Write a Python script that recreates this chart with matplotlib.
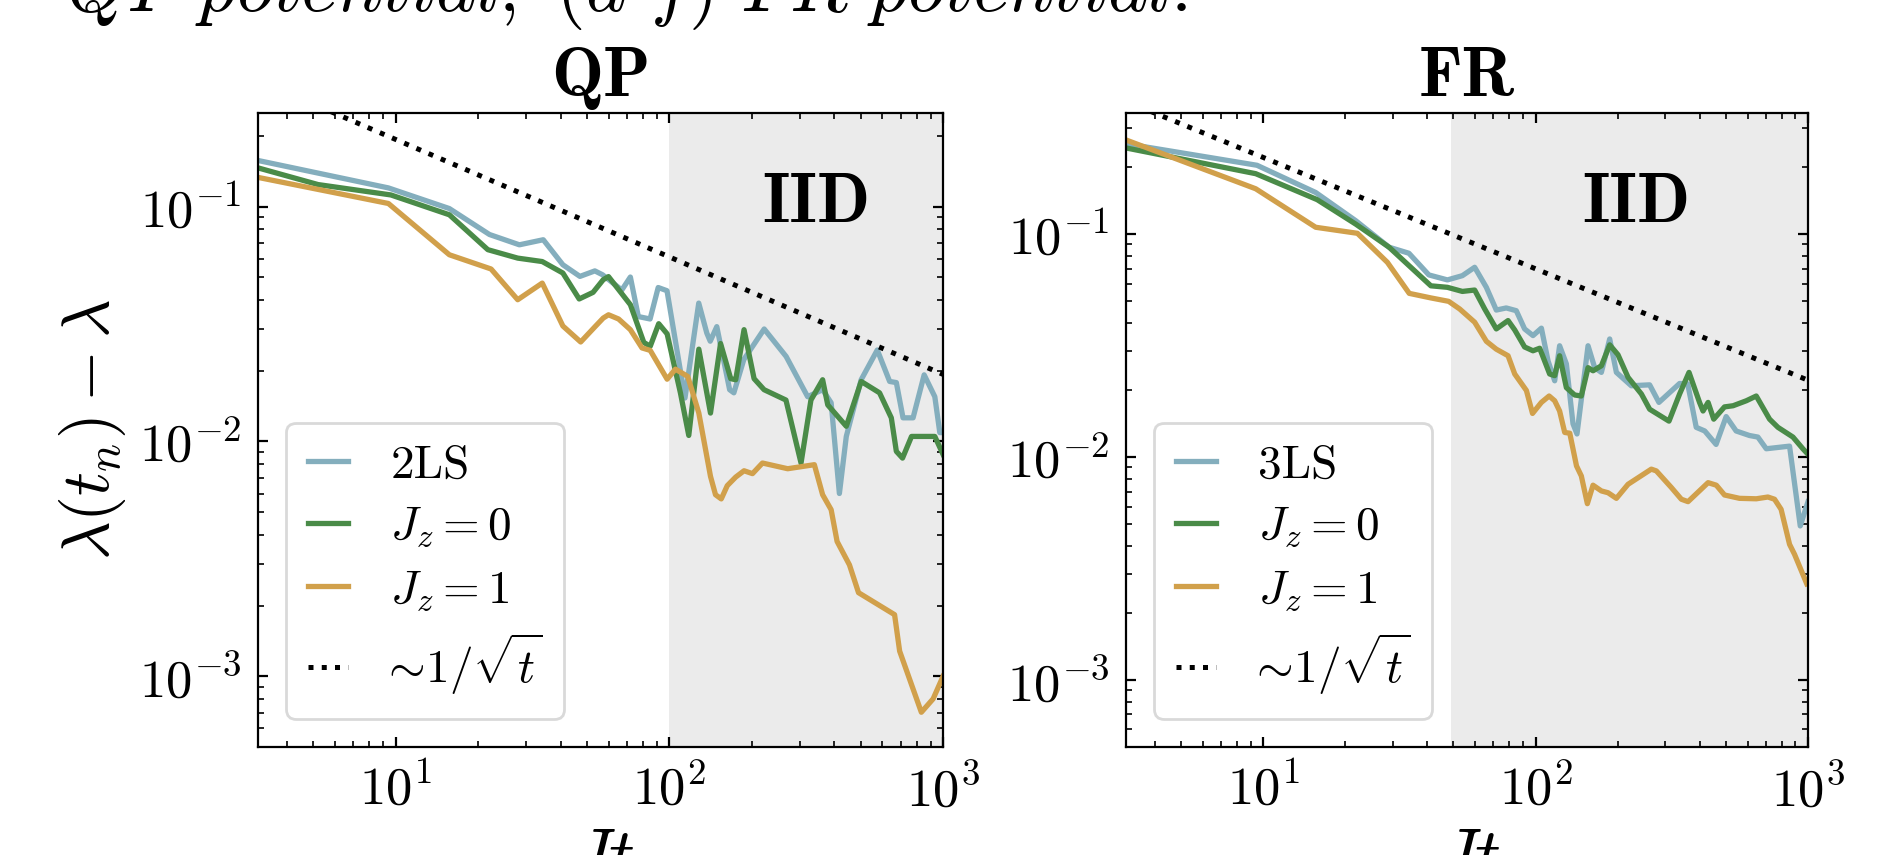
import numpy as np
import matplotlib
matplotlib.use("Agg")
import matplotlib.pyplot as plt

# fonts: computer modern look
plt.rcParams['mathtext.fontset'] = 'cm'
plt.rcParams['font.family'] = 'serif'
plt.rcParams['font.serif'] = ['cmr10']
plt.rcParams['axes.formatter.use_mathtext'] = True

# ---- data: QP panel ----
t_2ls_qp = [3.14, 9.4, 15.7, 22.0, 28.3, 34.6, 40.8, 47.1, 53.4, 57, 67, 72, 77, 85, 91, 98, 114, 128, 137, 141,
            149, 166, 172, 187, 222, 267, 320, 363, 390, 418, 443, 502, 575, 638, 675, 714, 777, 853, 933, 973, 1000]
v_2ls_qp = [0.157, 0.120, 0.098, 0.076, 0.0687, 0.0722, 0.0565, 0.0504, 0.0532, 0.0512, 0.0441, 0.0501, 0.0340,
            0.0332, 0.0452, 0.0438, 0.0153, 0.0388, 0.0289, 0.0267, 0.0308, 0.0166, 0.0161, 0.0223, 0.0301, 0.0230,
            0.0155, 0.0166, 0.0146, 0.0060, 0.0105, 0.0183, 0.0245, 0.0180, 0.0178, 0.0126, 0.0126, 0.0192, 0.0155,
            0.0109, 0.0109]

t_jz0_qp = [3.14, 5.2, 9.6, 15.7, 21.7, 27.9, 34.3, 40.8, 46.8, 52.6, 57.3, 59.9, 72, 80.6, 85.1, 91.4, 98.1, 109.7,
            117.7, 128.1, 141.3, 153.8, 167.5, 174.7, 187.4, 203.9, 221.8, 266.6, 302.7, 329, 363, 379, 443, 502, 586,
            647, 675, 711, 767, 933, 1000]
v_jz0_qp = [0.146, 0.124, 0.112, 0.0922, 0.0655, 0.0603, 0.0583, 0.0521, 0.0404, 0.0431, 0.0488, 0.0503, 0.0382,
            0.0264, 0.0254, 0.0317, 0.0287, 0.0161, 0.0106, 0.0247, 0.0132, 0.0261, 0.0185, 0.0183, 0.0299, 0.0185,
            0.0166, 0.0150, 0.00809, 0.0150, 0.0183, 0.0143, 0.0116, 0.0180, 0.0161, 0.0126, 0.00907, 0.00849,
            0.0105, 0.0105, 0.0088]

t_jz1_qp = [3.14, 9.4, 15.7, 22.3, 27.9, 34.3, 40.8, 47.4, 53.5, 57.3, 59.9, 65.2, 72, 79.4, 85.1, 98.1, 105.2, 116.7,
            128.1, 141.3, 147.4, 154.7, 162.7, 174.7, 187.4, 201.2, 218.8, 270.5, 338.6, 363, 390, 410, 455, 491, 665,
            694, 833, 920, 1000]
v_jz1_qp = [0.133, 0.103, 0.0623, 0.0542, 0.0401, 0.0472, 0.0310, 0.0265, 0.0308, 0.0335, 0.0346, 0.0332, 0.0299,
            0.0250, 0.0244, 0.0184, 0.0203, 0.0189, 0.0132, 0.0071, 0.00593, 0.00569, 0.00648, 0.00705, 0.0075,
            0.00729, 0.00809, 0.00765, 0.00796, 0.00593, 0.00512, 0.00375, 0.00298, 0.00227, 0.00183, 0.00128,
            0.000703, 0.000802, 0.00100]

# ---- data: FR panel ----
t_3ls_fr = [3.14, 9.5, 15.6, 21.9, 29.0, 34.3, 40.6, 47.5, 53.9, 59.8, 66.0, 71.8, 78.1, 85.0, 91.2, 97.9, 105.1,
            111.2, 117.6, 122.6, 129.8, 137.3, 142.0, 155.9, 164.9, 174.5, 187.2, 198.1, 224.7, 262.4, 283.8, 338,
            362, 389, 418, 460, 501, 545, 610, 655, 703, 856, 937, 1000]
v_3ls_fr = [0.255, 0.204, 0.154, 0.115, 0.0875, 0.0822, 0.0657, 0.0624, 0.0652, 0.0711, 0.0578, 0.0457, 0.0467,
            0.0454, 0.0376, 0.0351, 0.0379, 0.0270, 0.0220, 0.0316, 0.0262, 0.0141, 0.0127, 0.0316, 0.0252, 0.0240,
            0.0339, 0.0240, 0.0209, 0.0211, 0.0176, 0.0214, 0.0213, 0.0136, 0.0131, 0.0114, 0.0152, 0.0131, 0.0125,
            0.0123, 0.0109, 0.0112, 0.00491, 0.0063]

t_jz0_fr = [3.14, 9.4, 15.8, 21.9, 29.0, 41.3, 47.5, 53.9, 59.8, 65.1, 71.8, 79.3, 83.9, 91.2, 97.9, 103.6, 112.7,
            117.6, 122.6, 129.8, 139.2, 147.3, 155.9, 162.6, 174.5, 187.2, 200.8, 218.6, 244.7, 262.4, 309, 338, 366,
            400, 412, 430, 451, 494, 531, 594, 646, 723, 776, 881, 958, 1000]
v_jz0_fr = [0.244, 0.187, 0.143, 0.111, 0.0875, 0.0587, 0.0578, 0.0554, 0.0562, 0.0462, 0.0376, 0.0410, 0.0372,
            0.0312, 0.0300, 0.0308, 0.0236, 0.0232, 0.0285, 0.0205, 0.0190, 0.0188, 0.0252, 0.0244, 0.0257, 0.0319,
            0.0288, 0.0228, 0.0192, 0.0164, 0.0145, 0.0192, 0.0240, 0.0176, 0.0161, 0.0176, 0.0148, 0.0168, 0.0170,
            0.0179, 0.0188, 0.0148, 0.0136, 0.0123, 0.0109, 0.0103]

t_jz1_fr = [3.14, 9.4, 15.6, 22.2, 28.6, 34.4, 41.3, 48.0, 52.7, 59.8, 66.0, 71.8, 79.3, 83.9, 92.6, 97.5, 105.1,
            112.2, 117.6, 122.6, 128.0, 133.6, 141.4, 147.3, 155.0, 162.6, 174.5, 184.6, 198.1, 218.6, 266.1, 277.7,
            315.3, 343, 363, 430, 461, 494, 561, 646, 713, 754, 797, 856, 893, 990]
v_jz1_fr = [0.265, 0.160, 0.1075, 0.101, 0.0748, 0.0543, 0.0518, 0.0500, 0.0462, 0.0403, 0.0331, 0.0305, 0.0285,
            0.0236, 0.0199, 0.0157, 0.0176, 0.0188, 0.0179, 0.0161, 0.0129, 0.0128, 0.00913, 0.00823, 0.00618,
            0.00748, 0.00705, 0.00692, 0.00653, 0.00755, 0.00883, 0.00867, 0.00730, 0.00647, 0.00631, 0.00768,
            0.00748, 0.00676, 0.00653, 0.00650, 0.00662, 0.00647, 0.00583, 0.00406, 0.00366, 0.00270]

# panel settings
titles = ['QP', 'FR']
first_labels = ['2LS', '3LS']
iid_start = [100, 49]
guide_amp = [0.61, 0.70]
y_top = [0.25, 0.35]
iid_xpos = [0.815, 0.748]

c_blue = '#84aebd'
c_green = '#4a8b48'
c_gold = '#d1a04b'

fig = plt.figure(figsize=(9.44, 4.275), dpi=200)
ax1 = fig.add_axes([0.1367, 0.1263, 0.3628, 0.7415])
ax2 = fig.add_axes([0.5964, 0.1263, 0.3612, 0.7415])

series = [
    [(t_2ls_qp, v_2ls_qp), (t_jz0_qp, v_jz0_qp), (t_jz1_qp, v_jz1_qp)],
    [(t_3ls_fr, v_3ls_fr), (t_jz0_fr, v_jz0_fr), (t_jz1_fr, v_jz1_fr)],
]

for i, ax in enumerate([ax1, ax2]):
    ax.axvspan(iid_start[i], 1000, color='#ebebeb', lw=0, zorder=0)
    labels = [first_labels[i], r'$J_z = 0$', r'$J_z = 1$']
    for (t, v), c, lab in zip(series[i], [c_blue, c_green, c_gold], labels):
        ax.plot(t, v, color=c, lw=1.9, label=lab)
    tg = np.array([3.14, 1000])
    ax.plot(tg, guide_amp[i] / np.sqrt(tg), ':', color='k', lw=1.8,
            label=r'$\!\!\!\sim\!1/\sqrt{t}$')
    ax.set_xscale('log')
    ax.set_yscale('log')
    ax.set_xlim(3.14, 1000)
    ax.set_ylim(5e-4, y_top[i])
    ax.tick_params(which='both', direction='in', top=True, right=True, labelsize=19)
    ax.tick_params(which='major', pad=6)
    ax.set_title(titles[i], fontfamily='cmb10', fontsize=25, pad=6)
    ax.set_xlabel(r'$Jt$', fontsize=26)
    ax.text(iid_xpos[i], 0.855, 'IID', transform=ax.transAxes, fontfamily='cmb10',
            fontsize=25, ha='center', va='center')
    ax.legend(loc='lower left', fontsize=17, handlelength=0.85, handletextpad=0.9, framealpha=1,
              edgecolor='0.85', labelspacing=0.4, borderpad=0.45, borderaxespad=0.6)

ax1.set_ylabel(r'$\lambda(t_n) - \lambda$', fontsize=24)

# caption line cut off at the top
fig.text(0.035, 0.987, r'$QP\ potential;\ (d$-$f)\ FR\ potential.$', fontsize=27.5, ha='left', va='baseline')

fig.savefig('out.png', dpi=200)
